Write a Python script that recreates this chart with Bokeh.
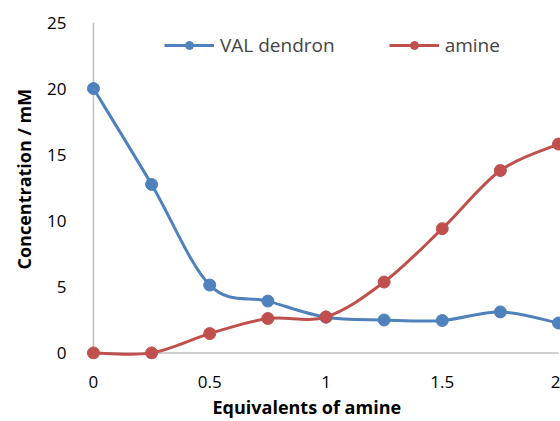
import numpy as np
from bokeh.plotting import figure
from bokeh.models import Range1d, FixedTicker, Legend, LegendItem, Title
from bokeh.embed import file_html
from bokeh.resources import INLINE

equivalents = [0, 0.25, 0.5, 0.75, 1.0, 1.25, 1.5, 1.75, 2.0]
val_dendron = [20.0, 12.75, 5.13, 3.92, 2.7, 2.49, 2.45, 3.1, 2.26]
amine = [0.0, 0.0, 1.46, 2.6, 2.72, 5.36, 9.4, 13.8, 15.8]
x_ticks = [0, 0.5, 1, 1.5, 2]
y_ticks = [0, 5, 10, 15, 20, 25]
x_title = "Equivalents of amine"
y_title = "Concentration / mM"

BLUE = "#4f81bd"
RED = "#c0504d"
AXIS = "#bfbfbf"
FONT = "Open Sans"


def smooth_segments(xs, ys, k=1.0 / 6.0):
    x = np.asarray(xs, float)
    y = np.asarray(ys, float)
    n = len(x)
    xp = np.concatenate([[x[0]], x, [x[-1]]])
    yp = np.concatenate([[y[0]], y, [y[-1]]])
    x0, y0 = x[:-1], y[:-1]
    x1, y1 = x[1:], y[1:]
    cx0 = x0 + (xp[2:n + 1] - xp[0:n - 1]) * k
    cy0 = y0 + (yp[2:n + 1] - yp[0:n - 1]) * k
    cx1 = x1 - (xp[3:n + 2] - xp[1:n]) * k
    cy1 = y1 - (yp[3:n + 2] - yp[1:n]) * k
    return dict(x0=x0, y0=y0, x1=x1, y1=y1, cx0=cx0, cy0=cy0, cx1=cx1, cy1=cy1)


p = figure(width=560, height=421, output_backend="svg", toolbar_location=None,
           x_range=Range1d(-0.03, 2.0086), y_range=Range1d(-0.5, 25),
           min_border_left=86, min_border_right=0, min_border_top=22, min_border_bottom=62)
p.outline_line_color = None
p.xgrid.visible = False
p.ygrid.visible = False
p.background_fill_color = "white"
p.border_fill_color = "white"

for ax in (p.xaxis[0], p.yaxis[0]):
    ax.axis_line_color = None
    ax.major_tick_line_color = None
    ax.minor_tick_line_color = None
    ax.major_label_text_font = FONT
    ax.major_label_text_font_size = "17px"
    ax.major_label_text_color = "#000000"

p.xaxis.ticker = FixedTicker(ticks=x_ticks)
p.yaxis.ticker = FixedTicker(ticks=y_ticks)
p.xaxis.major_label_standoff = 10
p.yaxis.major_label_standoff = 14

# axis lines along the zero lines
p.segment(x0=[x_ticks[0], x_ticks[0]], y0=[y_ticks[0], y_ticks[0]],
          x1=[x_ticks[0], x_ticks[-1]], y1=[y_ticks[-1], y_ticks[0]],
          line_color=AXIS, line_width=1.5)

p.add_layout(Title(text=x_title, align="left", offset=126, standoff=5,
                   text_font=FONT, text_font_size="18px", text_font_style="bold",
                   text_color="#000000"), "below")
p.add_layout(Title(text=y_title, align="left", offset=90, standoff=18,
                   text_font=FONT, text_font_size="18px", text_font_style="bold",
                   text_color="#000000"), "left")

legend_items = []
for name, ys, col in (("VAL dendron", val_dendron, BLUE), ("amine", amine, RED)):
    seg = smooth_segments(equivalents, ys)
    p.bezier(x0=seg["x0"], y0=seg["y0"], x1=seg["x1"], y1=seg["y1"],
             cx0=seg["cx0"], cy0=seg["cy0"], cx1=seg["cx1"], cy1=seg["cy1"],
             line_color=col, line_width=3)
    sc = p.scatter(equivalents, ys, size=12, fill_color=col, line_color=col)
    proxy = p.line(equivalents[:1], ys[:1], line_color=col, line_width=3)
    legend_items.append(LegendItem(label=name, renderers=[proxy, sc]))

legend = Legend(items=legend_items, orientation="horizontal", location=(78, 301),
                border_line_color=None, background_fill_alpha=0,
                label_text_font=FONT, label_text_font_size="19px",
                glyph_width=50, glyph_height=20, label_standoff=6, spacing=54,
                padding=0, margin=0)
p.add_layout(legend, "center")

open("out.html", "w").write(file_html(p, INLINE))
